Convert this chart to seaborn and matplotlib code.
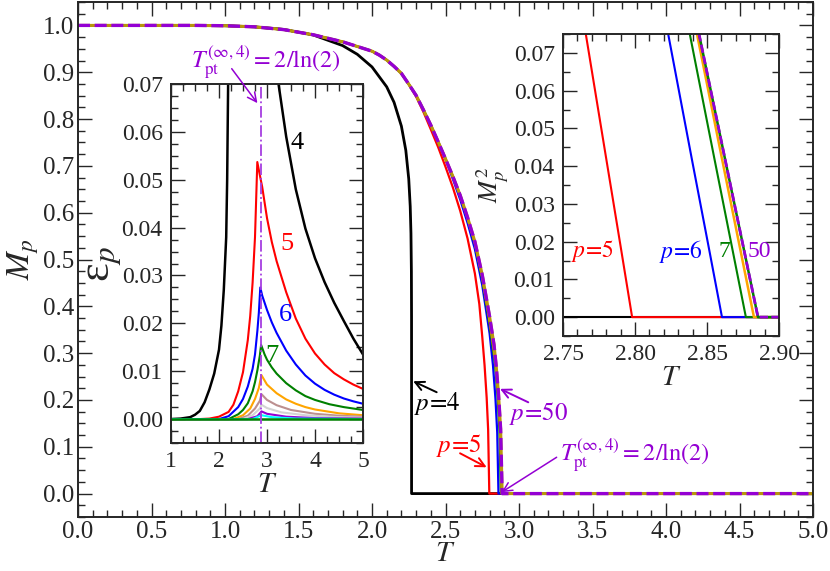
import numpy as np
import matplotlib
matplotlib.use("Agg")
import matplotlib.pyplot as plt
from matplotlib.ticker import MultipleLocator, FormatStrFormatter
import seaborn as sns

# ---- main panel: M_p(T) ----
# shared low-temperature part (all p >= 5 coincide there)
T_low = [0.0, 0.8, 1.0, 1.2, 1.4, 1.6, 1.8, 2.0, 2.05, 2.1, 2.15, 2.2, 2.25]
M_low = [1.0, 1.0, 0.9993, 0.997, 0.991, 0.980, 0.965, 0.945, 0.9365, 0.926,
         0.9125, 0.8975, 0.8745]

T_p4 = [0.0, 0.8, 1.0, 1.2, 1.4, 1.6, 1.8, 1.9, 2.0, 2.1, 2.15, 2.2, 2.23,
        2.25, 2.26, 2.265, 2.268, 2.269, 2.2692, 5.0]
M_p4 = [1.0, 1.0, 0.9993, 0.997, 0.9914, 0.9796, 0.9569, 0.9383, 0.9113,
        0.8688, 0.8357, 0.7848, 0.7332, 0.672, 0.6135, 0.556, 0.474, 0.378,
        0.0, 0.0]

T_p5 = [2.3, 2.35, 2.4, 2.45, 2.5, 2.55, 2.6, 2.65, 2.7, 2.73, 2.75, 2.7658,
        2.78, 2.79, 2.798, 5.0]
M_p5 = [0.848, 0.815, 0.778, 0.740, 0.698, 0.654, 0.604, 0.545, 0.470, 0.405,
        0.335, 0.274, 0.205, 0.137, 0.0, 0.0]

T_p6 = [2.3, 2.35, 2.4, 2.45, 2.5, 2.55, 2.6, 2.65, 2.7, 2.75, 2.8, 2.823,
        2.84, 2.852, 2.8604, 5.0]
M_p6 = [0.8505, 0.8195, 0.787, 0.7515, 0.715, 0.672, 0.628, 0.578, 0.522,
        0.445, 0.342, 0.274, 0.202, 0.130, 0.0, 0.0]

T_p7 = [2.3, 2.35, 2.4, 2.45, 2.5, 2.55, 2.6, 2.65, 2.7, 2.75, 2.8, 2.838,
        2.855, 2.868, 2.877, 5.0]
M_p7 = [0.8505, 0.8195, 0.787, 0.7515, 0.715, 0.6775, 0.637, 0.588, 0.532,
        0.457, 0.360, 0.274, 0.2055, 0.1315, 0.0, 0.0]

T_p8 = [2.3, 2.35, 2.4, 2.45, 2.5, 2.55, 2.6, 2.65, 2.7, 2.75, 2.8, 2.843,
        2.86, 2.873, 2.8826, 5.0]
M_p8 = [0.8505, 0.8195, 0.787, 0.7515, 0.715, 0.6775, 0.637, 0.589, 0.535,
        0.462, 0.368, 0.274, 0.2067, 0.1347, 0.0, 0.0]

T_p50 = [2.3, 2.35, 2.4, 2.45, 2.5, 2.55, 2.6, 2.65, 2.7, 2.75, 2.8, 2.83,
         2.8444, 2.86, 2.875, 2.8854, 5.0]
M_p50 = [0.8505, 0.8195, 0.787, 0.7515, 0.715, 0.6775, 0.637, 0.590, 0.538,
         0.467, 0.378, 0.318, 0.274, 0.2156, 0.138, 0.0, 0.0]

# ---- left inset: eps_p(T) ----
T_e4 = [1.0, 1.2, 1.4, 1.5, 1.6, 1.7, 1.8, 1.9, 2.0, 2.05, 2.1, 2.15, 2.17, 2.19, 2.21,
        3.15, 3.24, 3.4, 3.6, 3.8, 4.0, 4.2, 4.4, 4.6, 4.8, 5.0]
e4 = [0.0, 0.0001, 0.0004, 0.0009, 0.0017, 0.0035, 0.0062, 0.0095, 0.0145, 0.0195, 0.027,
      0.038, 0.050, 0.070, 0.090,
      0.080, 0.070, 0.059, 0.048, 0.0398, 0.0336, 0.0286, 0.0243, 0.0205, 0.0168, 0.0135]

T_e5 = [1.0, 1.6, 1.8, 2.0, 2.2, 2.3, 2.4, 2.5, 2.6, 2.65, 2.7, 2.75, 2.798,
        2.85, 2.9, 3.0, 3.1, 3.2, 3.4, 3.6, 3.8, 4.0, 4.2, 4.4, 4.6, 4.8, 5.0]
e5 = [0.0, 0.0, 0.0001, 0.0005, 0.0015, 0.003, 0.0058, 0.0098, 0.0165, 0.0215, 0.0285,
      0.038, 0.0537,
      0.051, 0.0485, 0.042, 0.037, 0.033, 0.0265, 0.021, 0.0168, 0.0137, 0.0114, 0.0096,
      0.0083, 0.0072, 0.0063]

T_e6 = [1.0, 2.0, 2.2, 2.4, 2.5, 2.6, 2.7, 2.75, 2.8, 2.83, 2.8604,
        2.9, 3.0, 3.1, 3.2, 3.4, 3.6, 3.8, 4.0, 4.2, 4.4, 4.6, 4.8, 5.0]
e6 = [0.0, 0.0, 0.0006, 0.0025, 0.0042, 0.0068, 0.0105, 0.0135, 0.0185, 0.0222, 0.0275,
      0.0258, 0.0228, 0.0202, 0.018, 0.0143, 0.0114, 0.0091, 0.0074, 0.0061, 0.0051,
      0.0043, 0.0037, 0.0032]

T_e7 = [1.0, 2.2, 2.4, 2.5, 2.6, 2.7, 2.75, 2.8, 2.85, 2.877,
        2.95, 3.0, 3.1, 3.2, 3.4, 3.6, 3.8, 4.0, 4.3, 4.6, 5.0]
e7 = [0.0, 0.0, 0.001, 0.0019, 0.0033, 0.0058, 0.0077, 0.0102, 0.0132, 0.0155,
      0.0135, 0.0124, 0.0108, 0.0095, 0.0075, 0.006, 0.0048, 0.004, 0.0031, 0.0025, 0.0019]

T_e8 = [1.0, 2.3, 2.5, 2.65, 2.75, 2.83, 2.8826, 3.0, 3.2, 3.4, 3.6, 3.8, 4.0, 4.5, 5.0]
e8 = [0.0, 0.0, 0.0008, 0.0022, 0.0042, 0.0065, 0.0092, 0.0072, 0.0054, 0.0041, 0.0032,
      0.0025, 0.002, 0.0012, 0.0008]

T_e9 = [1.0, 2.4, 2.6, 2.75, 2.85, 2.885, 3.0, 3.2, 3.5, 4.0, 4.5, 5.0]
e9 = [0.0, 0.0, 0.0007, 0.0022, 0.0038, 0.0052, 0.004, 0.0029, 0.0019, 0.0011, 0.0007, 0.0005]

T_e10 = [1.0, 2.5, 2.7, 2.85, 2.885, 3.0, 3.3, 3.8, 4.5, 5.0]
e10 = [0.0, 0.0, 0.0008, 0.0022, 0.003, 0.0023, 0.0014, 0.0008, 0.0004, 0.0003]

T_e12 = [1.0, 2.6, 2.8, 2.885, 3.0, 3.4, 4.0, 5.0]
e12 = [0.0, 0.0, 0.0006, 0.0016, 0.0011, 0.0005, 0.0002, 0.0001]

T_e16 = [1.0, 2.7, 2.885, 3.1, 3.6, 5.0]
e16 = [0.0, 0.0, 0.0008, 0.0004, 0.0001, 0.0]

T_e50 = [1.0, 5.0]
e50 = [0.0, 0.0]

T_pt = 2 / np.log(2)

VIOLET = "#9400d3"
LINE_VIOLET = "#a63ee0"
TPT_LABEL = r"$T_{\rm pt}^{(\infty,4)} = 2/\ln(2)$"

sns.set_style("ticks")
plt.rcParams["font.family"] = ["Liberation Serif", "DejaVu Serif"]
plt.rcParams["mathtext.fontset"] = "stix"
plt.rcParams["axes.linewidth"] = 1.4


def line(ax, x, y, color, lw=1.5, **kw):
    sns.lineplot(x=x, y=y, ax=ax, color=color, lw=lw, estimator=None,
                 sort=False, legend=False, **kw)
    return ax.lines[-1]


def style_ticks(ax, size, pad=6):
    ax.tick_params(which="both", direction="in", top=True, right=True, width=1.0)
    ax.tick_params(which="major", length=10, labelsize=size, pad=pad)
    ax.tick_params(which="minor", length=5)


fig = plt.figure(figsize=(8.3, 5.71), dpi=100)
ax = fig.add_axes([78 / 830, 54 / 571, 735 / 830, 515 / 571])

line(ax, T_p4, M_p4, "black", lw=2.0)
line(ax, T_low + T_p5, M_low + M_p5, "red", lw=1.6)
line(ax, T_low + T_p6, M_low + M_p6, "blue", lw=1.6)
line(ax, T_low + T_p7, M_low + M_p7, "green", lw=1.6)
line(ax, T_low + T_p8, M_low + M_p8, "orange", lw=1.6)
line(ax, T_low + T_p50, M_low + M_p50, "#b8960b", lw=2.2)
dl = line(ax, T_low + T_p50, M_low + M_p50, VIOLET, lw=2.4)
dl.set_dashes([3.6, 1.4])

ax.set_xlim(0, 5)
ax.set_ylim(-0.05, 1.05)
ax.xaxis.set_major_locator(MultipleLocator(0.5))
ax.xaxis.set_minor_locator(MultipleLocator(0.1))
ax.yaxis.set_major_locator(MultipleLocator(0.1))
ax.yaxis.set_minor_locator(MultipleLocator(0.025))
ax.xaxis.set_major_formatter(FormatStrFormatter("%.1f"))
ax.yaxis.set_major_formatter(FormatStrFormatter("%.1f"))
style_ticks(ax, 18, pad=3)
ax.set_xlabel(r"$T$", fontsize=21)
ax.set_ylabel(r"$M_p$", fontsize=24)
ax.xaxis.set_label_coords(0.5, -0.047)
ax.yaxis.set_label_coords(-0.05, 0.5)

arrow = dict(arrowstyle="->", lw=1.4, mutation_scale=16, shrinkA=0, shrinkB=0)
ax.annotate("", xy=(2.28, 0.240), xytext=(2.44, 0.2165),
            arrowprops=dict(arrow, color="black"))
ax.text(2.442, 0.192, r"$p\!=\!4$", fontsize=18, color="black", ha="center", va="center")
ax.annotate("", xy=(2.78, 0.0562), xytext=(2.599, 0.0861),
            arrowprops=dict(arrow, color="red"))
ax.text(2.59, 0.1026, r"$p\!=\!5$", fontsize=18, color="red", ha="center", va="center")
ax.annotate("", xy=(2.871, 0.2237), xytext=(3.063, 0.195),
            arrowprops=dict(arrow, color=VIOLET))
ax.text(3.13, 0.171, r"$p\!=\!50$", fontsize=18, color=VIOLET, ha="center", va="center")
ax.annotate("", xy=(2.882, 0.003), xytext=(3.256, 0.0776),
            arrowprops=dict(arrow, color=VIOLET, lw=1.1))
ax.text(3.279, 0.068, TPT_LABEL, fontsize=17.5, color=VIOLET, ha="left", va="baseline")
ax.text(0.769, 0.908, TPT_LABEL, fontsize=17.5, color=VIOLET, ha="left", va="baseline")

# ---- left inset ----
axe = fig.add_axes([171 / 830, 128 / 571, 192 / 830, 359 / 571])
axe.set_facecolor("white")
line(axe, T_e4, e4, "black", lw=1.8)
line(axe, T_e5, e5, "red")
line(axe, T_e6, e6, "blue")
line(axe, T_e7, e7, "green")
line(axe, T_e8, e8, "orange")
line(axe, T_e9, e9, "rosybrown")
line(axe, T_e10, e10, "lightgrey")
line(axe, T_e12, e12, "darkviolet")
line(axe, T_e16, e16, "cyan")
line(axe, T_e50, e50, "green", lw=1.8)
axe.axvline(T_pt, color=LINE_VIOLET, lw=1.3, ls="-.")
axe.set_xlim(1, 5)
axe.set_ylim(-0.005, 0.07)
axe.xaxis.set_major_locator(MultipleLocator(1))
axe.xaxis.set_minor_locator(MultipleLocator(0.25))
axe.yaxis.set_major_locator(MultipleLocator(0.01))
axe.yaxis.set_minor_locator(MultipleLocator(0.0025))
axe.yaxis.set_major_formatter(FormatStrFormatter("%.2f"))
style_ticks(axe, 17)
axe.set_xlabel(r"$T$", fontsize=21, labelpad=0)
axe.set_ylabel(r"ε$_p$", fontsize=32)
axe.yaxis.set_label_coords(-0.25, 0.5)
axe.annotate("", xy=(2.8, 0.066), xytext=(2.265, 0.0732), annotation_clip=False,
             arrowprops=dict(arrow, color=VIOLET, lw=1.1))
axe.text(3.62, 0.0577, "4", fontsize=19, color="black", ha="center", va="center")
axe.text(3.41, 0.0366, "5", fontsize=19, color="red", ha="center", va="center")
axe.text(3.375, 0.0218, "6", fontsize=19, color="blue", ha="center", va="center")
axe.text(3.10, 0.0132, "7", fontsize=19, color="green", ha="center", va="center")

# ---- right inset: M_p^2 near the transition ----
axm = fig.add_axes([563 / 830, 235 / 571, 216 / 830, 302 / 571])
axm.set_facecolor("white")
sq = lambda v: [m * m for m in v]
line(axm, T_p4, sq(M_p4), "black")
line(axm, T_low + T_p5, sq(M_low + M_p5), "red")
line(axm, T_low + T_p6, sq(M_low + M_p6), "blue")
line(axm, T_low + T_p7, sq(M_low + M_p7), "green")
line(axm, T_low + T_p8, sq(M_low + M_p8), "orange", lw=1.8)
line(axm, T_low + T_p50, sq(M_low + M_p50), "green", lw=1.8)
dm = line(axm, T_low + T_p50, sq(M_low + M_p50), VIOLET, lw=2.0)
dm.set_dashes([3.0, 1.2])
axm.set_xlim(2.75, 2.90)
axm.set_ylim(-0.005, 0.075)
axm.xaxis.set_major_locator(MultipleLocator(0.05))
axm.xaxis.set_minor_locator(MultipleLocator(0.01))
axm.yaxis.set_major_locator(MultipleLocator(0.01))
axm.yaxis.set_minor_locator(MultipleLocator(0.005))
axm.xaxis.set_major_formatter(FormatStrFormatter("%.2f"))
axm.yaxis.set_major_formatter(FormatStrFormatter("%.2f"))
style_ticks(axm, 17)
axm.set_xlabel(r"$T$", fontsize=21, labelpad=0)
axm.set_ylabel(r"$M_p^2$", fontsize=19, labelpad=2)
axm.text(2.7708, 0.0175, r"$p\!=\!5$", fontsize=17, color="red", ha="center", va="center")
axm.text(2.8322, 0.0175, r"$p\!=\!6$", fontsize=17, color="blue", ha="center", va="center")
axm.text(2.8623, 0.0175, "7", fontsize=17, color="green", ha="center", va="center")
axm.text(2.8866, 0.0175, "50", fontsize=17, color=VIOLET, ha="center", va="center")

fig.savefig("out.png", dpi=100)
